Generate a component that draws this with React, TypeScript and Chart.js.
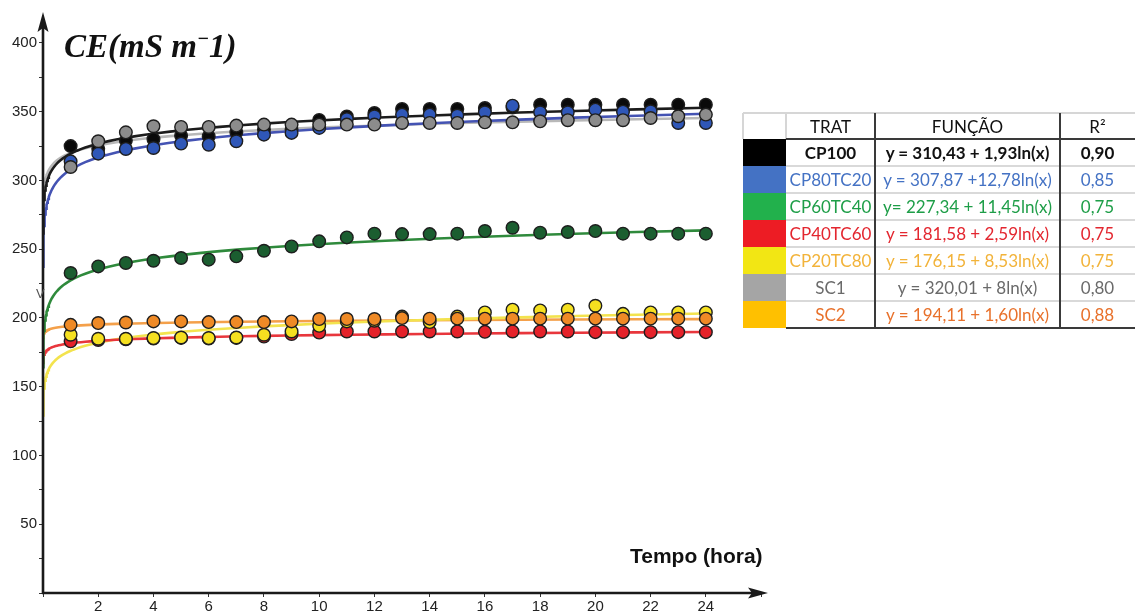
import React, { useEffect, useRef } from 'react';
import { Chart, registerables } from 'chart.js';

Chart.register(...registerables);

// ---------- DATA ----------
const hours = [1, 2, 3, 4, 5, 6, 7, 8, 9, 10, 11, 12, 13, 14, 15, 16, 17, 18, 19, 20, 21, 22, 23, 24];

const cp100 = [325, 323, 329, 330, 332.5, 332, 335, 337, 337, 344, 346.5, 349, 352, 352, 352, 352.7, 353, 355, 355, 355, 355, 355, 355, 355];
const cp80tc20 = [313.9, 319.5, 322.9, 323.6, 326.8, 326, 328.5, 333.3, 334.6, 338.2, 344.7, 346.7, 347.9, 347.9, 347.2, 349.6, 354.4, 349.6, 349.6, 351.5, 350, 350.3, 341.8, 341.8];
const cp60tc40 = [232.7, 237.5, 240, 241.6, 243.6, 242.4, 244.8, 248.9, 252, 255.7, 258.6, 261.3, 261, 261, 261.3, 263.2, 265.6, 262, 262.5, 263.2, 261.3, 261.3, 261.3, 261.3];
const cp40tc60 = [183, 184, 184.5, 185, 185.5, 185, 185.5, 186.5, 188.3, 189.4, 190.2, 190.2, 190.2, 190.2, 190.2, 189.9, 190.2, 190.2, 190.2, 189.7, 189.7, 189.7, 189.7, 189.7];
const cp20tc80 = [187.8, 184.9, 184.9, 185.4, 185.8, 185.4, 185.8, 187.8, 190.2, 194.3, 197.5, 198, 201, 197, 201, 204, 206, 205.5, 206, 208.9, 203, 204, 204, 204];
const sc1 = [309.8, 328.5, 335, 339.4, 338.9, 338.9, 339.9, 340.6, 340.6, 340.6, 340.6, 340.6, 341.8, 341.8, 341.8, 342.3, 342.3, 343, 343.8, 343.8, 343.8, 345.4, 346.7, 347.9];
const sc2 = [195, 196.3, 196.7, 197.5, 197.5, 197, 197, 197, 197.5, 199.2, 199.2, 199.2, 199.9, 199.5, 199.5, 199.5, 199.5, 199.5, 199.5, 199.5, 199.5, 199.5, 199.5, 199.5];

const seriesNames = ['CP100', 'CP80TC20', 'CP60TC40', 'CP40TC60', 'CP20TC80', 'SC1', 'SC2'];
const seriesValues = [cp100, cp80tc20, cp60tc40, cp40tc60, cp20tc80, sc1, sc2];

// fitted log curves y = a + b ln(x), as drawn in the picture
const fitIntercepts = [319.5, 307.87, 227.34, 181.58, 176.15, 320.01, 194.11];
const fitSlopes = [10.5, 12.78, 11.45, 2.59, 8.53, 8, 1.6];
const fitStart = 0.004;
const fitEnd = 24;
const fitSamples = 80;

const tableFunctions = [
  'y = 310,43 + 1,93ln(x)',
  'y = 307,87 +12,78ln(x)',
  'y= 227,34 + 11,45ln(x)',
  'y = 181,58 + 2,59ln(x)',
  'y = 176,15 + 8,53ln(x)',
  'y = 320,01 + 8ln(x)',
  'y = 194,11 + 1,60ln(x)',
];
const tableR2 = ['0,90', '0,85', '0,75', '0,75', '0,75', '0,80', '0,88'];

const xTickMax = 24;
const xStep = 2;
const yStep = 25;
const yLabelStep = 50;

// ---------- STYLES ----------
const swatchColors = ['#000000', '#4472C4', '#22B14C', '#ED1C24', '#F2E614', '#A5A5A5', '#FFC000'];
const textColors = ['#111111', '#4472C4', '#1E9E48', '#E3262F', '#F2B33A', '#6A6A6A', '#E8712B'];
const pointFills = ['#0a0a0a', '#2f57b8', '#1b5e30', '#e5222a', '#f5e020', '#8c8c8c', '#ef8a26'];
const lineColors = ['#1c1c1c', '#4453b3', '#2f8a3c', '#e8363c', '#f3e34e', '#b8b8b8', '#f4a04a'];
const pointOrder = [3, 2, 7, 6, 5, 1, 4];

const axesPlugin = {
  id: 'axesArrows',
  afterDatasetsDraw(chart: any) {
    const { ctx, chartArea } = chart;
    const { left, bottom, top, right } = chartArea;
    ctx.save();
    ctx.strokeStyle = '#1a1a1a';
    ctx.fillStyle = '#1a1a1a';
    ctx.lineWidth = 2.6;
    ctx.beginPath();
    ctx.moveTo(left, bottom + 1);
    ctx.lineTo(left, top + 10);
    ctx.stroke();
    ctx.beginPath();
    ctx.moveTo(left - 1, bottom);
    ctx.lineTo(right - 10, bottom);
    ctx.stroke();
    // y arrow
    ctx.beginPath();
    ctx.moveTo(left, top);
    ctx.lineTo(left - 5.5, top + 20);
    ctx.lineTo(left, top + 16);
    ctx.lineTo(left + 5.5, top + 20);
    ctx.closePath();
    ctx.fill();
    // x arrow
    ctx.beginPath();
    ctx.moveTo(right, bottom);
    ctx.lineTo(right - 20, bottom - 5.5);
    ctx.lineTo(right - 16, bottom);
    ctx.lineTo(right - 20, bottom + 5.5);
    ctx.closePath();
    ctx.fill();
    ctx.restore();
  },
};

export default function App() {
  const canvasRef = useRef<HTMLCanvasElement>(null);

  useEffect(() => {
    if (!canvasRef.current) return;
    const datasets: any[] = [];
    seriesNames.forEach((name, i) => {
      const curve: { x: number; y: number }[] = [];
      const l0 = Math.log(fitStart);
      const l1 = Math.log(fitEnd);
      for (let k = 0; k < fitSamples; k++) {
        const x = Math.exp(l0 + ((l1 - l0) * k) / (fitSamples - 1));
        curve.push({ x, y: fitIntercepts[i] + fitSlopes[i] * Math.log(x) });
      }
      datasets.push({
        label: name + ' fit',
        data: curve,
        showLine: true,
        pointRadius: 0,
        borderColor: lineColors[i],
        borderWidth: 2.6,
        tension: 0,
        order: 20 + i,
      });
      datasets.push({
        label: name,
        data: hours.map((h, j) => ({ x: h, y: seriesValues[i][j] })),
        showLine: false,
        pointRadius: 6.3,
        pointBackgroundColor: pointFills[i],
        pointBorderColor: '#1e1e1e',
        pointBorderWidth: 1.4,
        order: pointOrder[i],
      });
    });

    const chart = new Chart(canvasRef.current, {
      type: 'scatter',
      data: { datasets },
      options: {
        animation: false,
        responsive: false,
        devicePixelRatio: 1,
        layout: { padding: { top: 12, right: 367, left: 0, bottom: 0 } },
        plugins: { legend: { display: false }, tooltip: { enabled: false } },
        scales: {
          x: {
            type: 'linear',
            min: 0,
            max: 26.25,
            afterFit: (s: any) => {
              s.height = 21;
            },
            border: { display: false },
            grid: { display: true, drawOnChartArea: false, drawTicks: true, tickLength: 4, color: '#333' },
            ticks: {
              stepSize: xStep,
              autoSkip: false,
              includeBounds: false,
              maxRotation: 0,
              padding: 1,
              color: '#222',
              font: { family: 'Liberation Sans', size: 15 },
              callback: (v: any) => (v > 0 && v <= xTickMax ? String(v) : ''),
            },
          },
          y: {
            type: 'linear',
            min: 0,
            max: 422.5,
            afterFit: (s: any) => {
              s.width = 43;
            },
            border: { display: false },
            grid: { display: true, drawOnChartArea: false, drawTicks: true, tickLength: 4, color: '#333' },
            ticks: {
              stepSize: yStep,
              autoSkip: false,
              includeBounds: false,
              padding: 2,
              color: '#222',
              font: { family: 'Liberation Sans', size: 15 },
              callback: (v: any) => (v > 0 && v % yLabelStep === 0 ? String(v) : ''),
            },
          },
        },
      },
      plugins: [axesPlugin],
    });
    return () => chart.destroy();
  }, []);

  const font = "Lato, 'Liberation Sans', sans-serif";
  const colX = [743, 786, 875, 1060, 1135];
  const headerTop = 113;
  const headerH = 26;
  const rowH = 27;
  const rowsTop = headerTop + headerH;

  const cell = (left: number, top: number, width: number, height: number, text: string, color: string, bold = false) => (
    <div
      key={`${left}-${top}`}
      style={{
        position: 'absolute',
        left,
        top,
        width,
        height,
        display: 'flex',
        alignItems: 'center',
        justifyContent: 'center',
        fontFamily: font,
        fontSize: 17,
        fontWeight: bold ? 700 : 400,
        color,
        whiteSpace: 'nowrap',
        lineHeight: 1,
      }}
    >
      {text}
    </div>
  );

  const lines: React.ReactNode[] = [];
  const hl = (x1: number, x2: number, y: number, color: string, w: number, key: string) =>
    lines.push(<div key={key} style={{ position: 'absolute', left: x1, top: y - w / 2, width: x2 - x1, height: w, background: color }} />);
  const vl = (x: number, y1: number, y2: number, color: string, w: number, key: string) =>
    lines.push(<div key={key} style={{ position: 'absolute', left: x - w / 2, top: y1, width: w, height: y2 - y1, background: color }} />);

  const tableBottom = rowsTop + rowH * seriesNames.length;
  hl(colX[0], colX[4], headerTop, '#d6d6d6', 1.5, 'top');
  vl(colX[0], headerTop, rowsTop, '#d6d6d6', 1.5, 'lft');
  vl(colX[1], headerTop, rowsTop, '#d6d6d6', 1.5, 'sw');
  for (let i = 1; i < seriesNames.length; i++) hl(colX[1], colX[4], rowsTop + rowH * i, '#d9d9d9', 1.5, 'r' + i);
  hl(colX[1], colX[4], rowsTop, '#3a3a3a', 1.6, 'hb');
  hl(colX[1], colX[4], tableBottom, '#3a3a3a', 1.6, 'bt');
  vl(colX[2], headerTop, tableBottom, '#3a3a3a', 1.6, 'v2');
  vl(colX[3], headerTop, tableBottom, '#3a3a3a', 1.6, 'v3');

  return (
    <div style={{ position: 'absolute', left: 0, top: 0, width: 1135, height: 614, background: '#fff', overflow: 'hidden' }}>
      <canvas ref={canvasRef} width={1135} height={614} style={{ position: 'absolute', left: 0, top: 0, width: 1135, height: 614 }} />
      <div
        style={{
          position: 'absolute',
          left: 64,
          top: 30,
          fontFamily: "'Liberation Serif', serif",
          fontStyle: 'italic',
          fontWeight: 700,
          fontSize: 33,
          lineHeight: 1,
          color: '#111',
          whiteSpace: 'nowrap',
        }}
      >
        CE(mS m<sup style={{ fontSize: 20, verticalAlign: 0, position: 'relative', top: -12 }}>−</sup>1)
      </div>
      <div
        style={{
          position: 'absolute',
          left: 630,
          top: 545,
          fontFamily: "'Liberation Sans', sans-serif",
          fontWeight: 700,
          fontSize: 21,
          lineHeight: 1,
          color: '#111',
          whiteSpace: 'nowrap',
        }}
      >
        Tempo (hora)
      </div>
      <div style={{ position: 'absolute', left: 36, top: 287, fontFamily: "'Liberation Sans', sans-serif", fontSize: 13, color: '#555', lineHeight: 1 }}>V</div>
      {/* table */}
      {cell(colX[1], headerTop, colX[2] - colX[1], headerH, 'TRAT', '#111')}
      {cell(colX[2], headerTop, colX[3] - colX[2], headerH, 'FUNÇÃO', '#111')}
      {cell(colX[3], headerTop, colX[4] - colX[3], headerH, 'R²', '#111')}
      {seriesNames.map((name, i) => (
        <React.Fragment key={name}>
          <div style={{ position: 'absolute', left: colX[0], top: rowsTop + rowH * i, width: colX[1] - colX[0], height: rowH, background: swatchColors[i] }} />
          {cell(colX[1], rowsTop + rowH * i, colX[2] - colX[1], rowH, name, textColors[i], i === 0)}
          {cell(colX[2], rowsTop + rowH * i, colX[3] - colX[2], rowH, tableFunctions[i], textColors[i], i === 0)}
          {cell(colX[3], rowsTop + rowH * i, colX[4] - colX[3], rowH, tableR2[i], textColors[i], i === 0)}
        </React.Fragment>
      ))}
      {lines}
    </div>
  );
}
